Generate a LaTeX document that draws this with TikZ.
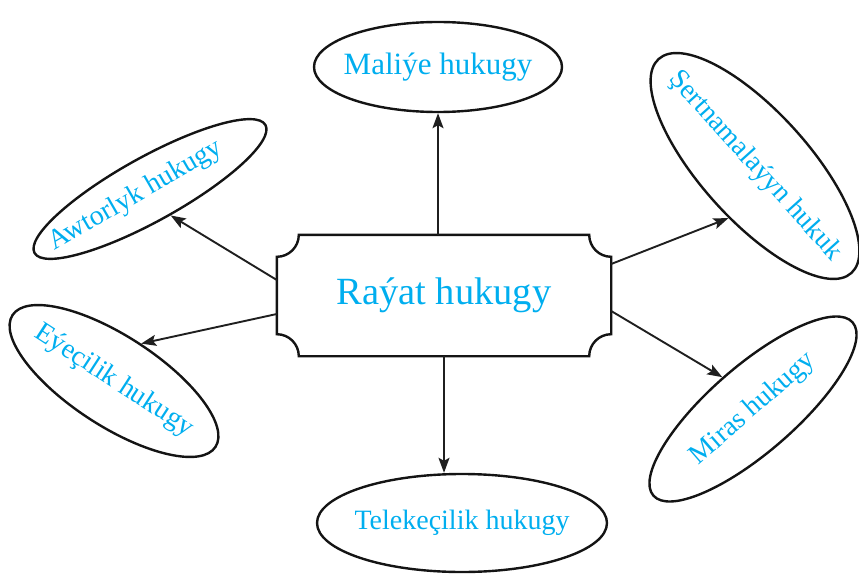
\documentclass[tikz,border=0pt]{standalone}
\usepackage{fontspec}
\setmainfont{Liberation Serif}
\usetikzlibrary{shapes.geometric,arrows.meta,calc}
\definecolor{txtcyan}{RGB}{0,174,239}
\begin{document}
\begin{tikzpicture}[x=1pt,y=-1pt,
  oval/.style={ellipse, draw=black!92, line width=2.4pt, inner sep=0pt, text=txtcyan},
  satfont/.style={font=\fontsize{28}{30}\selectfont},
  lbl/.style={inner sep=0pt, text=txtcyan, satfont},
  arr/.style={-{Stealth[length=15pt,width=11pt,inset=3pt]}, line width=1.9pt, draw=black!88},
]
\useasboundingbox (0,0) rectangle (859,575);
\node[minimum width=334pt, minimum height=121pt, inner sep=0pt, text=txtcyan, font=\fontsize{38.5}{40}\selectfont] (c) at (444,295.5) {Raýat hukugy};
\draw[line width=2.4pt, draw=black!92] ($(c.north west)+(22pt,0pt)$) -- ($(c.north east)+(-22pt,0pt)$)
  arc[start angle=180,end angle=270,radius=22pt] -- ($(c.south east)+(0pt,22pt)$)
  arc[start angle=90,end angle=180,radius=22pt] -- ($(c.south west)+(22pt,0pt)$)
  arc[start angle=0,end angle=90,radius=22pt] -- ($(c.north west)+(0pt,-22pt)$)
  arc[start angle=270,end angle=360,radius=22pt] -- cycle;

\node[oval, minimum width=248pt, minimum height=90pt, font=\fontsize{31}{33}\selectfont] (mal) at (438,67) {\makebox[0pt]{Maliýe hukugy}};
\node[oval, minimum width=290pt, minimum height=98pt, font=\fontsize{28}{30}\selectfont] (tel) at (462,523) {\makebox[0pt]{Telekeçilik hukugy}};
\node[oval, rotate=29, minimum width=264pt, minimum height=64pt] (awt) at (150,189) {};
\node[lbl, rotate=30] (awttext) at (136,196) {Awtorlyk hukugy};
\node[oval, satfont, rotate=-33, minimum width=242pt, minimum height=90pt] (eye) at (114,381) {\makebox[0pt]{Eýeçilik hukugy}};
\node[oval, satfont, rotate=-48, minimum width=288pt, minimum height=108pt] (sert) at (755,166) {\makebox[0pt]{Şertnamalaýyn hukuk}};
\node[oval, satfont, rotate=41, minimum width=264pt, minimum height=86pt] (mir) at (753,409) {\makebox[0pt]{Miras hukugy}};

\draw[arr] (mal.south |- c.north) -- (mal.south);
\draw[arr] (c.south) -- (c.south |- tel.north);
\draw[arr] ($(c.west)+(0pt,15.5pt)$) -- (awt.-81);
\draw[arr] ($(c.west)+(0pt,-18.5pt)$) -- (eye.87);
\draw[arr] ($(c.east)+(0pt,31.5pt)$) -- (sert.-69);
\draw[arr] ($(c.east)+(0pt,-15.5pt)$) -- (mir.93);
\end{tikzpicture}
\end{document}
